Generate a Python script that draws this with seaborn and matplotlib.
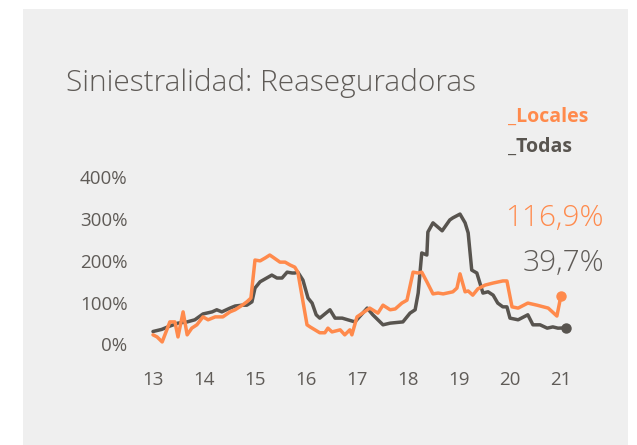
import numpy as np
import pandas as pd
import matplotlib
matplotlib.use("Agg")
import matplotlib.pyplot as plt
from matplotlib.patches import Rectangle
import seaborn as sns

# Siniestralidad de reaseguradoras (%), eje x en años (13 = 2013)
todas_x = [13.00, 13.17, 13.33, 13.49, 13.67, 13.82, 13.98, 14.16, 14.25, 14.35,
           14.51, 14.61, 14.75, 14.84, 14.94, 15.00, 15.10, 15.33, 15.43, 15.53,
           15.63, 15.73, 15.78, 15.84, 15.94, 16.04, 16.12, 16.20, 16.27, 16.47,
           16.57, 16.71, 16.82, 16.96, 17.20, 17.31, 17.51, 17.65, 17.90, 18.04,
           18.14, 18.20, 18.27, 18.37, 18.39, 18.49, 18.67, 18.82, 18.88, 19.02,
           19.12, 19.18, 19.25, 19.35, 19.47, 19.57, 19.67, 19.76, 19.86, 19.94,
           20.00, 20.16, 20.35, 20.45, 20.59, 20.73, 20.84, 20.94, 21.10]
todas_y = [31, 36, 44, 51, 54, 59, 73, 78, 83, 78,
           87, 92, 94, 94, 102, 135, 150, 166, 159, 159,
           173, 171, 171, 173, 154, 111, 99, 71, 63, 83,
           63, 63, 59, 54, 87, 71, 47, 51, 54, 75,
           83, 123, 219, 214, 269, 291, 272, 298, 303, 312,
           291, 267, 178, 171, 123, 126, 118, 99, 90, 90,
           63, 59, 71, 47, 47, 39, 42, 39, 39.7]

locales_x = [13.00, 13.08, 13.18, 13.33, 13.43, 13.49, 13.59, 13.67, 13.76, 13.86,
             13.98, 14.08, 14.22, 14.37, 14.51, 14.61, 14.75, 14.84, 14.92, 15.00,
             15.10, 15.20, 15.29, 15.35, 15.49, 15.59, 15.69, 15.78, 15.84, 16.02,
             16.08, 16.27, 16.37, 16.43, 16.51, 16.67, 16.76, 16.86, 16.90, 17.00,
             17.06, 17.25, 17.41, 17.51, 17.65, 17.75, 17.88, 17.98, 18.10, 18.20,
             18.27, 18.37, 18.49, 18.59, 18.69, 18.88, 18.96, 19.02, 19.12, 19.18,
             19.27, 19.37, 19.51, 19.67, 19.86, 19.94, 20.04, 20.16, 20.35, 20.53,
             20.75, 20.92, 21.00]
locales_y = [23, 18, 6, 54, 54, 18, 78, 23, 39, 47,
             66, 59, 66, 66, 78, 83, 94, 102, 111, 202,
             200, 207, 214, 209, 197, 197, 190, 185, 173, 47,
             42, 28, 28, 39, 30, 35, 23, 35, 23, 66,
             71, 87, 75, 94, 83, 85, 99, 106, 173, 171,
             173, 150, 121, 123, 121, 126, 135, 169, 126, 128,
             118, 133, 142, 147, 152, 152, 90, 87, 99, 94,
             87, 68, 116.9]

x_ticks = [13, 14, 15, 16, 17, 18, 19, 20, 21]
y_ticks = [0, 100, 200, 300, 400]

orange = "#FF8A4C"
dark = "#58544F"
text_gray = "#5f5b57"
panel = "#EFEFEF"

df_todas = pd.DataFrame({"anio": todas_x, "valor": todas_y})
df_locales = pd.DataFrame({"anio": locales_x, "valor": locales_y})

sns.set_theme(style="white")
plt.rcParams["font.family"] = ["Open Sans", "DejaVu Sans"]

W, H = 637, 445
fig = plt.figure(figsize=(W / 100, H / 100), dpi=100)
fig.patch.set_facecolor("white")
fig.add_artist(Rectangle((23 / W, 0), 605 / W, 436 / H, transform=fig.transFigure,
                         facecolor=panel, edgecolor="none", zorder=0))

ax = fig.add_axes([140 / W, 1 - 360 / H, 440 / W, 190 / H])
ax.set_facecolor("none")

sns.lineplot(data=df_todas, x="anio", y="valor", color=dark, linewidth=2.5, ax=ax)
sns.lineplot(data=df_locales, x="anio", y="valor", color=orange, linewidth=2.5, ax=ax)
ax.plot(todas_x[-1], todas_y[-1], "o", color=dark, markersize=6.5)
ax.plot(locales_x[-1], locales_y[-1], "o", color=orange, markersize=6.5)

ax.set_xlim(12.745, 21.373)
ax.set_ylim(-37.2, 417.5)
ax.set_xticks(x_ticks)
ax.set_xticklabels([str(t) for t in x_ticks])
ax.set_yticks(y_ticks)
ax.set_yticklabels([f"{t}%" for t in y_ticks])
ax.tick_params(axis="both", length=0, labelsize=13.5, colors=text_gray)
ax.tick_params(axis="y", pad=9)
ax.tick_params(axis="x", pad=8)
ax.set_xlabel("")
ax.set_ylabel("")
for s in ax.spines.values():
    s.set_visible(False)

fig.text(66 / W, 1 - 83 / H, "Siniestralidad: Reaseguradoras", fontsize=21.5,
         color=text_gray, va="center", ha="left", fontweight="light")
fig.text(508 / W, 1 - 117 / H, "_Locales", fontsize=14, fontweight="bold",
         color=orange, va="center", ha="left")
fig.text(508 / W, 1 - 147 / H, "_Todas", fontsize=14, fontweight="bold",
         color=dark, va="center", ha="left")
fig.text(604 / W, 1 - 218 / H, "116,9%", fontsize=21.5, color=orange,
         va="center", ha="right", fontweight="light")
fig.text(604 / W, 1 - 263 / H, "39,7%", fontsize=21.5, color=text_gray,
         va="center", ha="right", fontweight="light")

fig.savefig("out.png", dpi=100)
